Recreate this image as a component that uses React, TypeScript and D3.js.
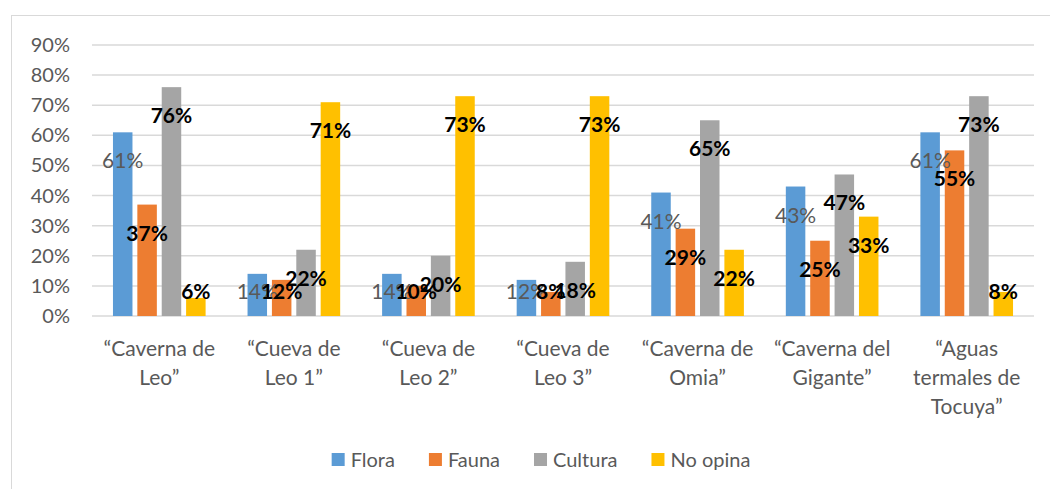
import React, { useEffect, useRef } from 'react';
import * as d3 from 'd3';

const categories = [
  ['“Caverna de', 'Leo”'],
  ['“Cueva de', 'Leo 1”'],
  ['“Cueva de', 'Leo 2”'],
  ['“Cueva de', 'Leo 3”'],
  ['“Caverna de', 'Omia”'],
  ['“Caverna del', 'Gigante”'],
  ['“Aguas', 'termales de', 'Tocuya”'],
];
const seriesNames = ['Flora', 'Fauna', 'Cultura', 'No opina'];
const colors = ['#5B9BD5', '#ED7D31', '#A5A5A5', '#FFC000'];

const flora = [0.61, 0.14, 0.14, 0.12, 0.41, 0.43, 0.61];
const fauna = [0.37, 0.12, 0.1, 0.08, 0.29, 0.25, 0.55];
const cultura = [0.76, 0.22, 0.2, 0.18, 0.65, 0.47, 0.73];
const noOpina = [0.06, 0.71, 0.73, 0.73, 0.22, 0.33, 0.08];

const yTicks = [0, 0.1, 0.2, 0.3, 0.4, 0.5, 0.6, 0.7, 0.8, 0.9];

const FONT = 'Lato, "Open Sans", sans-serif';

export default function App() {
  const ref = useRef<SVGSVGElement | null>(null);

  useEffect(() => {
    const width = 1050;
    const height = 489;
    const margin = { top: 45, right: 16, bottom: 173, left: 92 };
    const svg = d3.select(ref.current);
    svg.selectAll('*').remove();

    const values = [flora, fauna, cultura, noOpina];
    const data = categories.map((c, i) => ({
      idx: i,
      vals: values.map((s, k) => ({ k, v: s[i] })),
    }));

    // chart frame (cut off right and bottom like the screenshot)
    svg
      .append('rect')
      .attr('x', 11.5)
      .attr('y', 15.5)
      .attr('width', 1200)
      .attr('height', 600)
      .attr('fill', 'white')
      .attr('stroke', '#d9d9d9');

    const x0 = d3
      .scaleBand<number>()
      .domain(d3.range(categories.length))
      .range([margin.left, width - margin.right]);
    const x1 = d3
      .scaleBand<number>()
      .domain(d3.range(seriesNames.length))
      .range([0, x0.bandwidth()])
      .paddingInner(0.2)
      .paddingOuter(0.86);
    const y = d3
      .scaleLinear()
      .domain([0, 0.9])
      .range([height - margin.bottom, margin.top]);

    // gridlines + y labels
    const yAxis = svg.append('g');
    yAxis
      .selectAll('line')
      .data(yTicks)
      .join('line')
      .attr('x1', margin.left)
      .attr('x2', width - margin.right)
      .attr('y1', (d) => y(d))
      .attr('y2', (d) => y(d))
      .attr('stroke', '#d9d9d9')
      .attr('stroke-width', 1.5);
    yAxis
      .selectAll('text')
      .data(yTicks)
      .join('text')
      .attr('x', 70)
      .attr('y', (d) => y(d) + 7)
      .attr('text-anchor', 'end')
      .attr('fill', '#595959')
      .style('font-family', FONT)
      .style('font-size', '20px')
      .text((d) => d3.format('.0%')(d));

    // bars
    const groups = svg
      .append('g')
      .selectAll('g')
      .data(data)
      .join('g')
      .attr('transform', (d) => `translate(${x0(d.idx)},0)`);
    groups
      .selectAll('rect')
      .data((d) => d.vals)
      .join('rect')
      .attr('x', (d) => x1(d.k)!)
      .attr('y', (d) => y(d.v))
      .attr('width', x1.bandwidth())
      .attr('height', (d) => y(0) - y(d.v))
      .attr('fill', (d) => colors[d.k]);

    // data labels, drawn series by series so later ones sit on top
    const labels = svg.append('g');
    seriesNames.forEach((_, k) => {
      labels
        .append('g')
        .selectAll('text')
        .data(values[k])
        .join('text')
        .attr('x', (d, i) => x0(i)! + x1(k)! + x1.bandwidth() / 2)
        .attr('y', (d) => Math.min(y(d) + 29, y(0) - 24) + 7)
        .attr('text-anchor', 'middle')
        .attr('fill', k === 0 ? '#595959' : '#000')
        .style('font-family', FONT)
        .style('font-weight', k === 0 ? 'normal' : 'bold')
        .style('font-size', '21px')
        .text((d) => d3.format('.0%')(d));
    });

    // x labels
    const xl = svg.append('g');
    categories.forEach((lines, i) => {
      const t = xl
        .append('text')
        .attr('text-anchor', 'middle')
        .attr('fill', '#595959')
        .style('font-family', FONT)
        .style('font-size', '21px');
      lines.forEach((ln, j) => {
        t.append('tspan')
          .attr('x', x0(i)! + x0.bandwidth() / 2)
          .attr('y', 356 + j * 29)
          .text(ln);
      });
    });

    // legend
    const legend = svg.append('g');
    const items = legend
      .selectAll('g')
      .data(seriesNames)
      .join('g');
    items
      .append('rect')
      .attr('width', 13)
      .attr('height', 13)
      .attr('y', -7)
      .attr('fill', (d, i) => colors[i]);
    items
      .append('text')
      .attr('x', 19)
      .attr('y', 7)
      .attr('fill', '#595959')
      .style('font-family', FONT)
      .style('font-size', '20px')
      .text((d) => d);
    let cx = 0;
    const offsets: number[] = [];
    items.each(function () {
      offsets.push(cx);
      const w = (this as SVGGElement).getBBox().width;
      cx += w + 34;
    });
    const total = cx - 34;
    const startX = 541 - total / 2;
    items.attr('transform', (d, i) => `translate(${startX + offsets[i]},460)`);
  }, []);

  return (
    <svg
      ref={ref}
      width={1050}
      height={489}
      style={{ position: 'absolute', left: 0, top: 0, background: 'white' }}
    />
  );
}
